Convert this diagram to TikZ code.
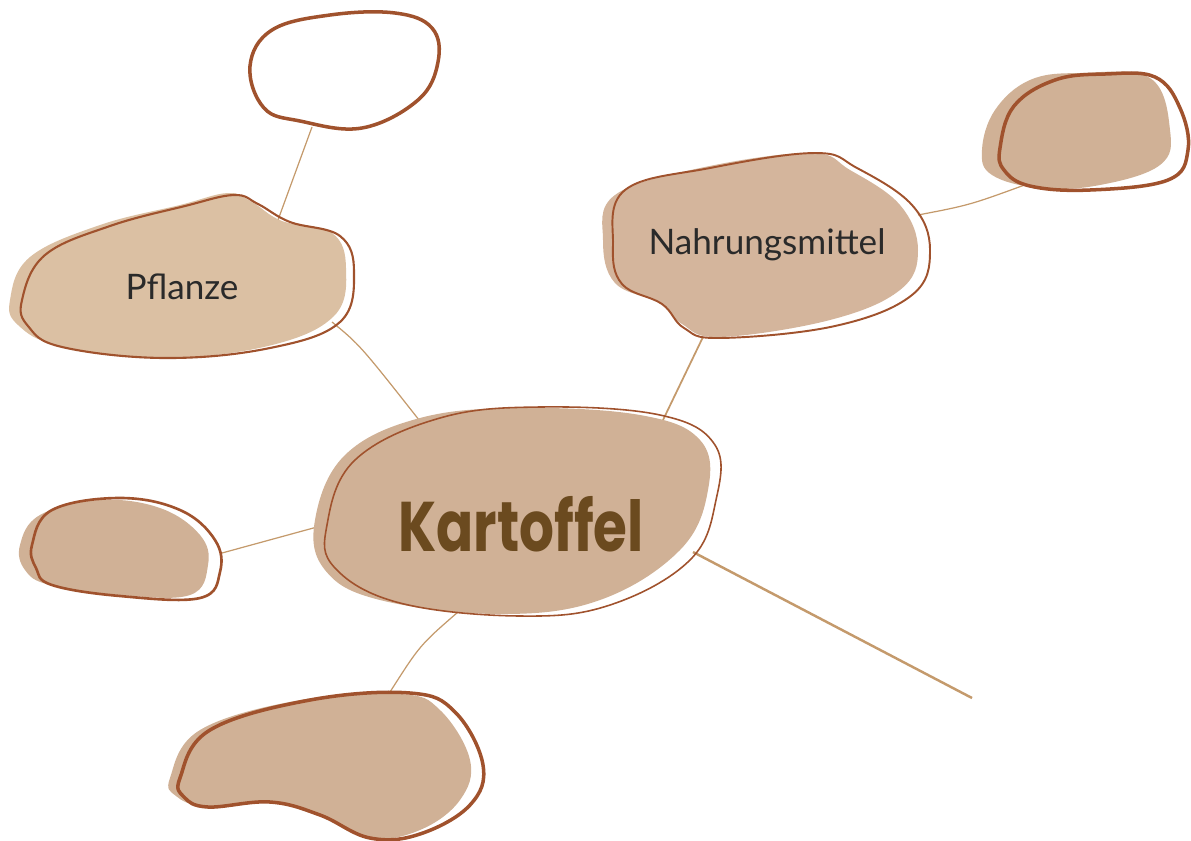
\documentclass[tikz,border=0pt]{standalone}
\usepackage{fontspec}
\setmainfont{Lato}
\newfontfamily\titlefont{Poppins}
\usetikzlibrary{positioning}

\definecolor{tan}{HTML}{D0B196}
\definecolor{tanlight}{HTML}{DBC0A3}
\definecolor{tanmid}{HTML}{D4B59C}
\definecolor{sienna}{HTML}{A0522D}
\definecolor{linkbrown}{HTML}{C49A6C}
\definecolor{titlebrown}{HTML}{6B4A1F}
\definecolor{labelgray}{HTML}{2A2A2A}

\tikzset{
    blobfill/.style={fill=tan, draw=none},
    bloboutline/.style={draw=sienna, line width=#1, line join=round},
    bloboutline/.default=1pt,
    link/.style={draw=linkbrown, line width=0.7pt},
    label/.style={font=\fontsize{20}{24}\selectfont, text=labelgray},
}

\begin{document}
\begin{tikzpicture}[x=0.02cm, y=-0.02cm]
        \useasboundingbox (0,0) rectangle (1191,840);

        % Connectors (behind the blobs)
        \coordinate (top-s) at (312,127);
        \coordinate (pfl-n) at (278,220);
        \coordinate (pfl-se) at (332,322);
        \coordinate (kar-nw) at (423,425);
        \coordinate (nah-e) at (918,215);
        \coordinate (tr-sw) at (1030,183);
        \coordinate (nah-s) at (703,337);
        \coordinate (kar-ne) at (663,420);
        \coordinate (left-e) at (222,553);
        \coordinate (kar-w) at (328,524);
        \coordinate (kar-s) at (458,612);
        \coordinate (bot-n) at (390,692);
        \coordinate (kar-se) at (693,552);
        \coordinate (free-end) at (972,698);

        \draw[link] (top-s) -- (pfl-n);
        \draw[link] (pfl-se) .. controls (360,345) .. (kar-nw);
        \draw[link] (nah-e) .. controls (970,205) .. (tr-sw);
        \draw[link, line width=1pt] (nah-s) -- (kar-ne);
        \draw[link] (left-e) -- (kar-w);
        \draw[link] (kar-s) .. controls (420,645) .. (bot-n);
        \draw[link, line width=1.4pt] (kar-se) -- (free-end);

        % Top (empty) blob
        \draw[bloboutline=2pt, fill=white] plot[smooth cycle, tension=0.65] coordinates
            {(250,66) (272,30) (330,15) (395,13) (432,28) (438,62) (418,100) (362,128) (300,121) (264,108)};

        % Pflanze
        \fill[blobfill, fill=tanlight] plot[smooth cycle, tension=0.65] coordinates
            {(10,300) (30,257) (100,225) (180,205) (228,193) (252,202) (282,221) (332,233) (346,268) (334,316) (268,346) (160,358) (60,346) (18,325)};
        \draw[bloboutline=1.2pt] plot[smooth cycle, tension=0.65] coordinates
            {(22,300) (45,255) (110,226) (185,206) (234,195) (258,204) (290,222) (340,236) (354,272) (340,322) (270,348) (165,358) (62,347) (28,326)};
        \node[label] (pflanze) at (182,287) {Pflanze};

        % Nahrungsmittel
        \fill[blobfill, fill=tanmid] plot[smooth cycle, tension=0.65] coordinates
            {(603,240) (615,195) (700,168) (810,153) (850,170) (900,205) (918,250) (900,290) (830,320) (720,337) (682,324) (660,303) (615,283)};
        \draw[bloboutline=1.1pt] plot[smooth cycle, tension=0.65] coordinates
            {(613,245) (625,190) (710,168) (815,153) (857,168) (912,205) (930,250) (912,295) (835,326) (720,338) (684,328) (662,304) (622,284)};
        \node[label] (nahrung) at (767,245) {Nahrungsmittel};

        % Top right blob
        \fill[blobfill] plot[smooth cycle, tension=0.65] coordinates
            {(982,150) (995,110) (1030,80) (1080,73) (1150,78) (1170,130) (1160,165) (1100,185) (1040,188) (992,175)};
        \draw[bloboutline=2pt] plot[smooth cycle, tension=0.65] coordinates
            {(1000,148) (1014,106) (1055,80) (1105,74) (1155,77) (1180,108) (1188,150) (1168,180) (1090,190) (1030,186) (1004,170)};

        % Kartoffel (centre)
        \fill[blobfill] plot[smooth cycle, tension=0.65] coordinates
            {(315,520) (345,455) (420,418) (520,408) (640,415) (700,440) (708,490) (680,550) (600,600) (500,614) (380,600) (325,570)};
        \draw[bloboutline=0.9pt] plot[smooth cycle, tension=0.65] coordinates
            {(327,525) (355,460) (440,418) (540,407) (660,415) (715,445) (716,500) (690,560) (610,605) (520,616) (400,603) (335,568)};
        \node[font=\titlefont\bfseries\fontsize{40}{46}\selectfont, text=titlebrown, xscale=0.78]
            (kartoffel) at (521,524) {Kartoffel};

        % Left blob
        \fill[blobfill] plot[smooth cycle, tension=0.65] coordinates
            {(20,545) (40,515) (100,500) (160,508) (200,535) (208,565) (190,595) (120,595) (50,585) (25,570)};
        \draw[bloboutline=1.5pt] plot[smooth cycle, tension=0.65] coordinates
            {(32,545) (52,510) (120,498) (180,510) (215,540) (220,572) (200,598) (120,596) (52,585) (36,568)};

        % Bottom blob
        \fill[blobfill] plot[smooth cycle, tension=0.65] coordinates
            {(170,778) (200,730) (300,700) (400,694) (440,710) (470,760) (460,800) (420,830) (370,838) (320,815) (270,802) (205,806) (176,796)};
        \draw[bloboutline=2pt] plot[smooth cycle, tension=0.65] coordinates
            {(180,778) (210,730) (310,700) (410,693) (455,712) (483,765) (470,805) (420,834) (370,838) (320,815) (270,802) (208,807) (184,797)};
\end{tikzpicture}
\end{document}
